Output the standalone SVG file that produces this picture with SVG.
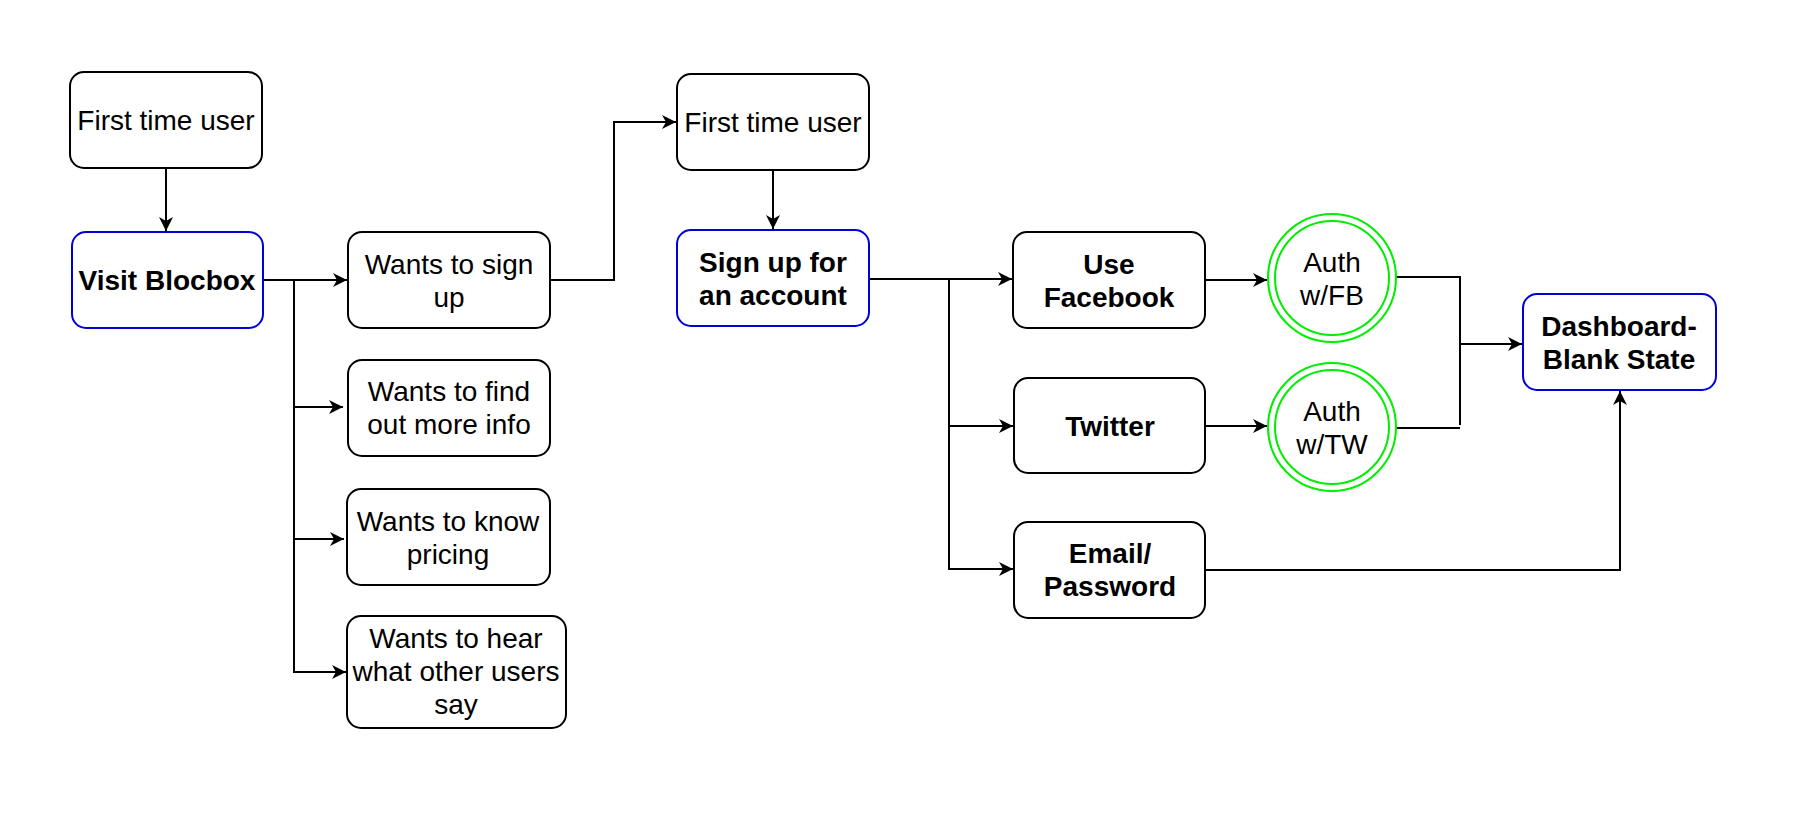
<svg xmlns="http://www.w3.org/2000/svg" width="1800" height="840" viewBox="0 0 1800 840">
<style>
.box{fill:#fff;stroke:#000;stroke-width:2}
.blue{fill:#fff;stroke:#0000DD;stroke-width:2}
.ring{fill:#fff;stroke:#00EE00;stroke-width:2}
.t{font-family:"Liberation Sans",Arial,sans-serif;font-size:28px;text-anchor:middle;fill:#000}
.b{font-weight:bold}
.ln{fill:none;stroke:#000;stroke-width:2}
</style>
<defs>
<marker id="ar" markerUnits="userSpaceOnUse" markerWidth="16" markerHeight="14" refX="14" refY="7" orient="auto">
<path d="M0,0 L14,7 L0,14 L4,7 Z" fill="#000"/>
</marker>
</defs>
<rect width="1800" height="840" fill="#fff"/>
<g id="connectors">
<path class="ln" d="M166,168 V231" marker-end="url(#ar)"/>
<path class="ln" d="M263,280 H347" marker-end="url(#ar)"/>
<path class="ln" d="M294,280 V672 H346" marker-end="url(#ar)"/>
<path class="ln" d="M294,407 H343" marker-end="url(#ar)"/>
<path class="ln" d="M294,539 H344" marker-end="url(#ar)"/>
<path class="ln" d="M550,280 H614 V122 H676" marker-end="url(#ar)"/>
<path class="ln" d="M773,170 V229" marker-end="url(#ar)"/>
<path class="ln" d="M869,279 H1012" marker-end="url(#ar)"/>
<path class="ln" d="M949,279 V569 H1013" marker-end="url(#ar)"/>
<path class="ln" d="M949,426 H1013" marker-end="url(#ar)"/>
<path class="ln" d="M1205,280 H1267" marker-end="url(#ar)"/>
<path class="ln" d="M1205,426 H1267" marker-end="url(#ar)"/>
<path class="ln" d="M1396,277 H1460 V425"/>
<path class="ln" d="M1396,428 H1460"/>
<path class="ln" d="M1460,344 H1522" marker-end="url(#ar)"/>
<path class="ln" d="M1206,570 H1620 V391" marker-end="url(#ar)"/>
</g>
<g id="ftu1"><rect class="box" x="70" y="72" width="192" height="96" rx="14"/><text class="t" x="166" y="130">First time user</text></g>
<g id="visit"><rect class="blue" x="72" y="232" width="191" height="96" rx="14"/><text class="t b" x="167" y="290">Visit Blocbox</text></g>
<g id="signup-want"><rect class="box" x="348" y="232" width="202" height="96" rx="14"/><text class="t" x="449" y="274">Wants to sign</text><text class="t" x="449" y="307">up</text></g>
<g id="info"><rect class="box" x="348" y="360" width="202" height="96" rx="14"/><text class="t" x="449" y="401">Wants to find</text><text class="t" x="449" y="434">out more info</text></g>
<g id="pricing"><rect class="box" x="347" y="489" width="203" height="96" rx="14"/><text class="t" x="448" y="531">Wants to know</text><text class="t" x="448" y="564">pricing</text></g>
<g id="hear"><rect class="box" x="347" y="616" width="219" height="112" rx="14"/><text class="t" x="456" y="648">Wants to hear</text><text class="t" x="456" y="681">what other users</text><text class="t" x="456" y="714">say</text></g>
<g id="ftu2"><rect class="box" x="677" y="74" width="192" height="96" rx="14"/><text class="t" x="773" y="132">First time user</text></g>
<g id="signup"><rect class="blue" x="677" y="230" width="192" height="96" rx="14"/><text class="t b" x="773" y="272">Sign up for</text><text class="t b" x="773" y="305">an account</text></g>
<g id="facebook"><rect class="box" x="1013" y="232" width="192" height="96" rx="14"/><text class="t b" x="1109" y="274">Use</text><text class="t b" x="1109" y="307">Facebook</text></g>
<g id="twitter"><rect class="box" x="1014" y="378" width="191" height="95" rx="14"/><text class="t b" x="1110" y="436">Twitter</text></g>
<g id="email"><rect class="box" x="1014" y="522" width="191" height="96" rx="14"/><text class="t b" x="1110" y="563">Email/</text><text class="t b" x="1110" y="596">Password</text></g>
<g id="authfb"><circle class="ring" cx="1332" cy="278" r="64"/><circle class="ring" cx="1332" cy="278" r="57"/><text class="t" x="1332" y="272">Auth</text><text class="t" x="1332" y="305">w/FB</text></g>
<g id="authtw"><circle class="ring" cx="1332" cy="427" r="64"/><circle class="ring" cx="1332" cy="427" r="57"/><text class="t" x="1332" y="421">Auth</text><text class="t" x="1332" y="454">w/TW</text></g>
<g id="dashboard"><rect class="blue" x="1523" y="294" width="193" height="96" rx="14"/><text class="t b" x="1619" y="336">Dashboard-</text><text class="t b" x="1619" y="369">Blank State</text></g>
</svg>
